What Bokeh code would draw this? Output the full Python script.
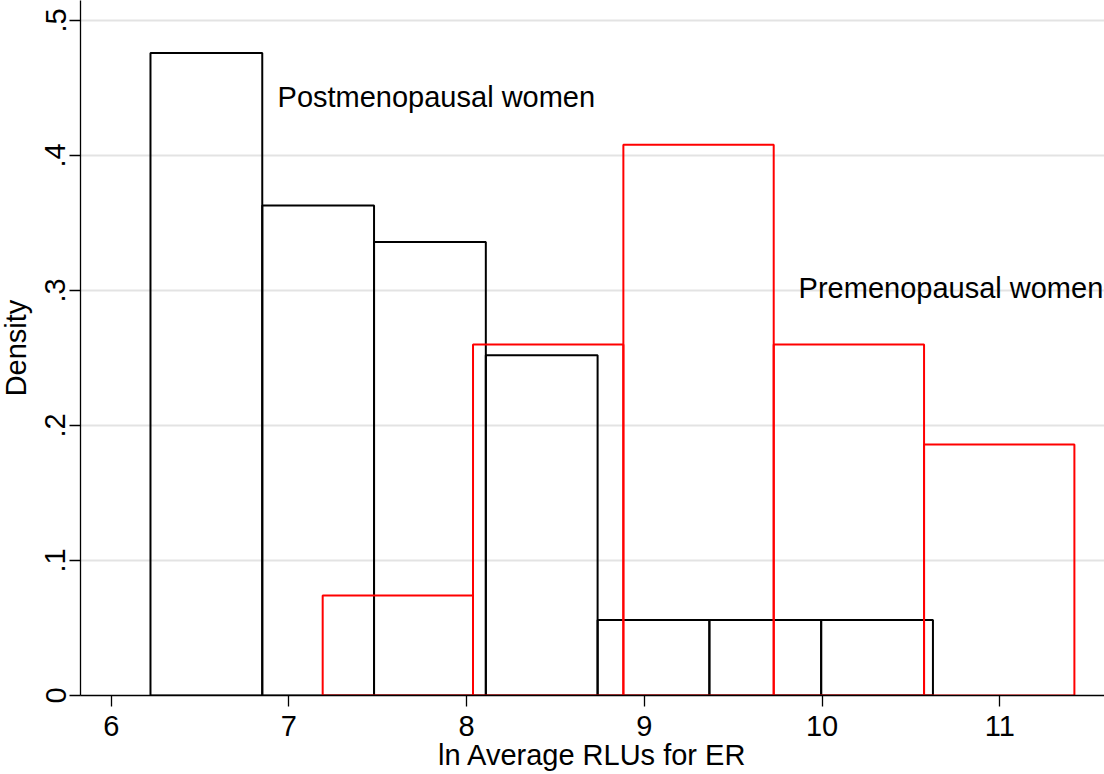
from bokeh.plotting import figure
from bokeh.models import ColumnDataSource, FixedTicker, Label
from bokeh.embed import file_html
from bokeh.resources import INLINE

# Data
post_edges = [6.221, 6.850, 7.479, 8.108, 8.737, 9.366, 9.995, 10.624]
post_density = [0.476, 0.363, 0.336, 0.252, 0.056, 0.056, 0.056]

pre_edges = [7.190, 8.036, 8.882, 9.728, 10.574, 11.420]
pre_density = [0.074, 0.260, 0.408, 0.260, 0.186]

x_ticks = [6, 7, 8, 9, 10, 11]
y_ticks = [0, 0.1, 0.2, 0.3, 0.4, 0.5]
y_tick_labels = ["0", ".1", ".2", ".3", ".4", ".5"]

labels = ["Postmenopausal women", "Premenopausal women"]
label_x = [6.936, 9.868]
label_y = [0.443, 0.3015]

x_title = "ln Average RLUs for ER"
y_title = "Density"

FONT = "Liberation Sans"

p = figure(
    output_backend="svg", toolbar_location=None,
    frame_width=1024, frame_height=695,
    x_range=(5.8272, 11.5894), y_range=(0, 0.5148),
    min_border_left=88, min_border_right=0, min_border_top=0, min_border_bottom=70,
    outline_line_color=None, background_fill_color="white",
)
p.styles = {"margin-left": "-8px"}

post_src = ColumnDataSource(dict(left=post_edges[:-1], right=post_edges[1:],
                                 top=post_density, bottom=[0] * len(post_density)))
pre_src = ColumnDataSource(dict(left=pre_edges[:-1], right=pre_edges[1:],
                                top=pre_density, bottom=[0] * len(pre_density)))

p.quad(left="left", right="right", top="top", bottom="bottom", source=post_src,
       fill_color=None, line_color="black", line_width=2)
p.quad(left="left", right="right", top="top", bottom="bottom", source=pre_src,
       fill_color=None, line_color="#ff0000", line_width=2)

for t, xx, yy in zip(labels, label_x, label_y):
    p.add_layout(Label(x=xx, y=yy, text=t, text_font=FONT, text_font_size="29px",
                       text_color="black", text_baseline="alphabetic", text_align="left"))

# grids
p.xgrid.grid_line_color = None
p.ygrid.ticker = FixedTicker(ticks=y_ticks)
p.ygrid.grid_line_color = "#e3e3e3"
p.ygrid.grid_line_width = 2

# axes
p.xaxis.ticker = FixedTicker(ticks=x_ticks)
p.yaxis.ticker = FixedTicker(ticks=y_ticks)
p.yaxis.major_label_overrides = {t: l for t, l in zip(y_ticks, y_tick_labels)}
p.yaxis.major_label_orientation = "vertical"

for ax in (p.xaxis[0], p.yaxis[0]):
    ax.axis_line_color = "black"
    ax.axis_line_width = 1.3
    ax.major_tick_line_color = "black"
    ax.major_tick_line_width = 1.3
    ax.major_tick_out = 11
    ax.major_tick_in = 0
    ax.minor_tick_line_color = None
    ax.major_label_text_font = FONT
    ax.major_label_text_font_size = "29px"
    ax.major_label_text_color = "black"
    ax.axis_label_text_font = FONT
    ax.axis_label_text_font_size = "29px"
    ax.axis_label_text_font_style = "normal"
    ax.axis_label_text_color = "black"

p.xaxis.major_label_standoff = 9
p.xaxis.axis_label_standoff = 0
p.yaxis.major_label_standoff = 4
p.yaxis.axis_label_standoff = 11

p.xaxis.axis_label = x_title
p.yaxis.axis_label = y_title

open("out.html", "w").write(file_html(p, INLINE))
